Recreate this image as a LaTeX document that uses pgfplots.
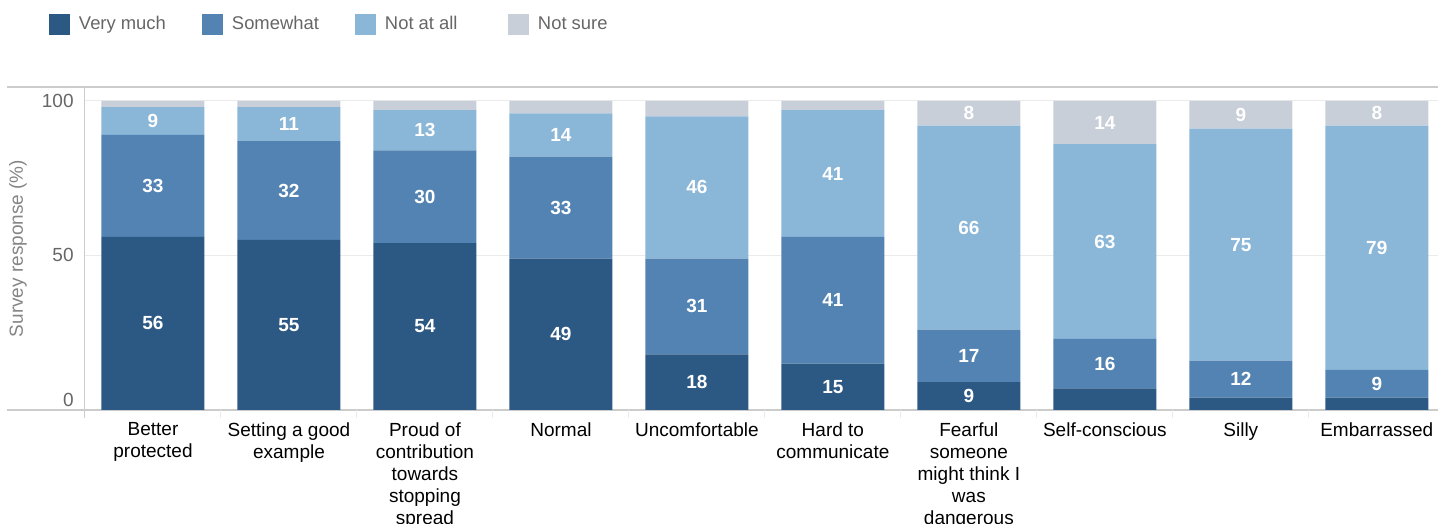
\documentclass[border=0pt]{standalone}
\usepackage{fontspec}
\setmainfont{Liberation Sans}
\usepackage{pgfplots}
\pgfplotsset{compat=1.18}
\usepackage{pgfplotstable}
\definecolor{vm}{RGB}{44,88,132}
\definecolor{sw}{RGB}{82,131,178}
\definecolor{na}{RGB}{138,182,216}
\definecolor{ns}{RGB}{200,207,217}
\definecolor{axgray}{RGB}{204,204,204}
\definecolor{gridgray}{RGB}{235,235,235}
\definecolor{txtgray}{RGB}{102,102,102}
\pgfplotstableread{
x vm sw na ns
0 56 33 9 2
1 55 32 11 2
2 54 30 13 3
3 49 33 14 4
4 18 31 46 5
5 15 41 41 3
6 9 17 66 8
7 7 16 63 14
8 4 12 75 9
9 4 9 79 8
}\data
\begin{document}
\begin{tikzpicture}
\begin{axis}[
  name=ax,
  scale only axis,
  width=676.5pt, height=161.5pt,
  ybar stacked, bar width=51.5pt,
  xmin=-0.5, xmax=9.45, ymin=0, ymax=104.5,
  enlargelimits=false,
  clip=false,
  axis line style={draw=none},
  major tick length=0pt,
  xtick={0,...,9},
  xticklabels={Better\\protected, Setting a good\\example, Proud of\\contribution\\towards\\stopping\\spread, Normal, Uncomfortable, Hard to\\communicate, Fearful\\someone\\might think I\\was\\dangerous, Self-conscious, Silly, Embarrassed},
  xticklabel style={align=center, font=\fontsize{9.5}{11}\selectfont, text=black, inner sep=0pt, anchor=north, yshift=-6pt},
  ytick={50,100},
  yticklabels={50,100},
  extra y ticks={0},
  extra y tick labels={0},
  extra y tick style={yticklabel style={yshift=5pt}},
  yticklabel style={font=\fontsize{9.5}{11}\selectfont, text=txtgray, inner sep=0pt, anchor=east, xshift=-5.5pt},
  ymajorgrids, grid style={gridgray, line width=0.5pt},
  ylabel={Survey response (\%)},
  ylabel style={font=\fontsize{9.5}{11}\selectfont, text=txtgray!80, at={(axis description cs:0,0.5)}, anchor=center, yshift=33.5pt},
  legend columns=4,
  legend style={at={(axis description cs:0,1)}, anchor=west, xshift=-18pt, yshift=31.25pt, draw=none, fill=none, inner sep=0pt, outer sep=0pt, column sep=0pt, nodes={inner sep=0pt, font=\fontsize{9.2}{11}\selectfont, text=txtgray}},
  legend image code/.code={\fill[#1] (0pt,-5.4pt) rectangle (10.5pt,5.4pt); \path (15pt,0pt);},
  nodes near coords={\ifdim\myval pt<7.5pt\else\pgfmathprintnumber[assume math mode=true]{\myval}\fi},
  visualization depends on=rawy \as \myval,
  every node near coord/.append style={anchor=center, font=\fontsize{9.5}{11}\selectfont\bfseries, text=white},
]
\addplot[fill=vm, draw=none] table[x=x, y=vm] {\data};
\addlegendentry{\makebox[61.5pt][l]{Very much}}
\addplot[fill=sw, draw=none] table[x=x, y=sw] {\data};
\addlegendentry{\makebox[61.5pt][l]{Somewhat}}
\addplot[fill=na, draw=none] table[x=x, y=na] {\data};
\addlegendentry{\makebox[61.5pt][l]{Not at all}}
\addplot[fill=ns, draw=none] table[x=x, y=ns] {\data};
\addlegendentry{\makebox[61.5pt][l]{Not sure}}
\pgfplotsinvokeforeach{0.5,1.5,2.5,3.5,4.5,5.5,6.5,7.5,8.5}{
  \draw[gridgray, line width=0.5pt] (axis cs:#1,0) -- ++(0pt,-4pt);
}
\draw[axgray, line width=0.5pt] ([yshift=-4pt]rel axis cs:0,0) -- (rel axis cs:0,1);
\draw[axgray, line width=0.6pt] ([xshift=-39pt]rel axis cs:0,0) -- (rel axis cs:1,0);
\draw[axgray, line width=0.6pt] ([xshift=-39pt]rel axis cs:0,1) -- (rel axis cs:1,1);
\end{axis}
\pgfresetboundingbox
\path[use as bounding box] ([xshift=-42.5pt,yshift=-57pt]ax.south west) rectangle ([yshift=43.5pt]ax.north east);
\end{tikzpicture}
\end{document}
